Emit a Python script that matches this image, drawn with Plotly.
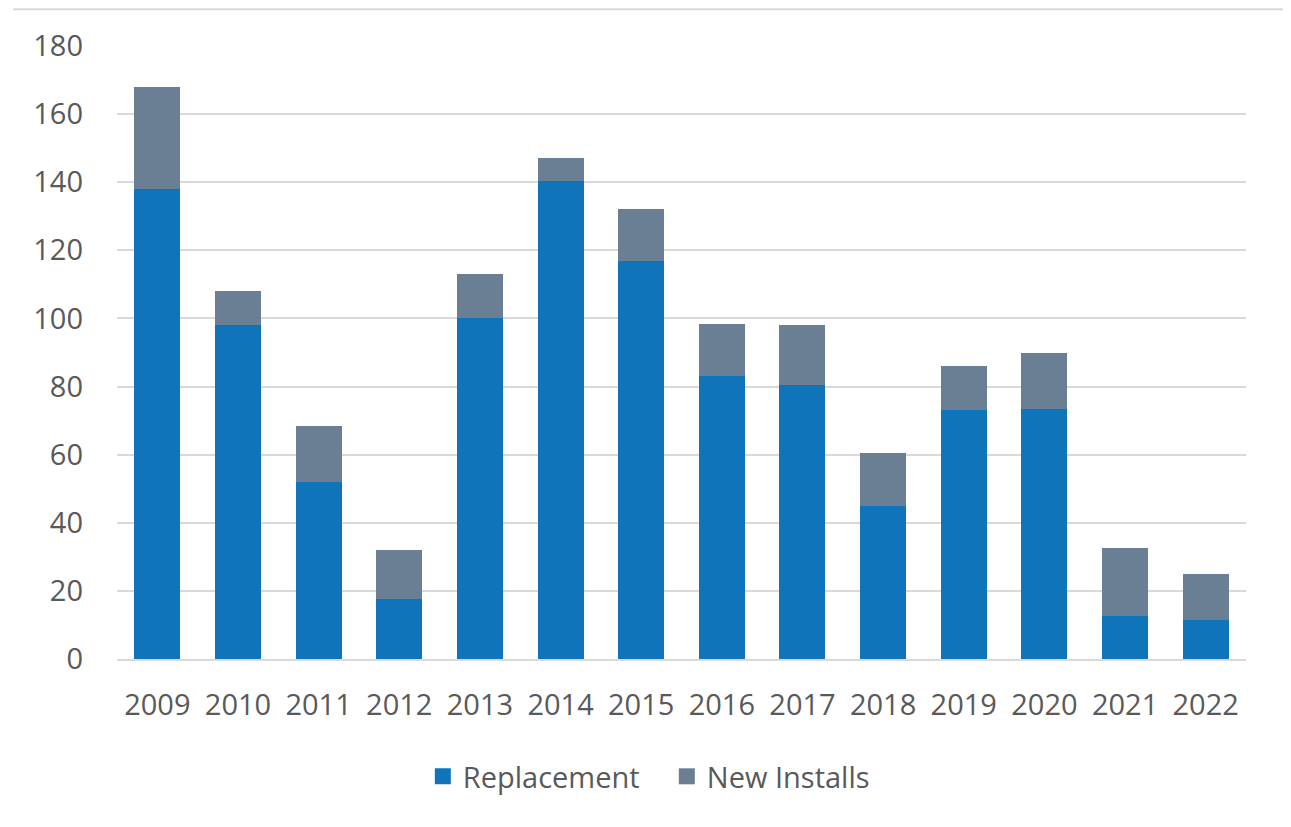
import plotly.graph_objects as go

years = ["2009", "2010", "2011", "2012", "2013", "2014", "2015",
         "2016", "2017", "2018", "2019", "2020", "2021", "2022"]
replacement = [138, 98, 52, 17.5, 100, 140.5, 117, 83, 80.5, 45, 73, 73.5, 12.5, 11.5]
totals = [168, 108, 68.5, 32, 113, 147, 132, 98.5, 98, 60.5, 86, 90, 32.5, 25]
new_installs = [t - r for t, r in zip(totals, replacement)]
series_names = ["Replacement", "New Installs"]
series_colors = ["#1074BB", "#6A7F94"]

fig = go.Figure()
for name, vals, col in zip(series_names, [replacement, new_installs], series_colors):
    fig.add_trace(go.Bar(x=years, y=vals, name=name, legendgroup=name, showlegend=False,
                         marker=dict(color=col, line=dict(width=0))))
# legend entries with larger square swatches
for name, col in zip(series_names, series_colors):
    fig.add_trace(go.Scatter(x=[None], y=[None], mode="markers", name=name, legendgroup=name,
                             marker=dict(symbol="square", size=18, color=col)))

font_family = "Open Sans, sans-serif"
fig.update_layout(
    barmode="stack",
    bargap=0.43,
    width=1291, height=827,
    margin=dict(l=109, r=53, t=38, b=176),
    paper_bgcolor="white", plot_bgcolor="white",
    font=dict(family=font_family, size=29, color="#595959"),
    showlegend=True,
    legend=dict(orientation="h", x=0.487, xanchor="center", y=-0.15, yanchor="top",
                font=dict(size=29, color="#595959"), itemwidth=30, traceorder="normal",
                itemsizing="trace", entrywidth=199, entrywidthmode="pixels"),
    xaxis=dict(showgrid=False, showline=True, linecolor="#D9D9D9", linewidth=2,
               ticks="", ticklabelstandoff=19, tickfont=dict(size=29)),
    yaxis=dict(range=[0, 180], dtick=20, showgrid=True, gridcolor="#D9D9D9", gridwidth=2,
               zeroline=False, ticks="", ticklabelstandoff=33, tickfont=dict(size=29)),
)
# outer frame lines (top and right)
fig.add_shape(type="line", xref="paper", yref="paper", x0=-0.092, x1=1.034, y0=1.06, y1=1.06,
              line=dict(color="#D9D9D9", width=2))
fig.add_shape(type="line", xref="paper", yref="paper", x0=1.034, x1=1.034, y0=1.06, y1=-0.274,
              line=dict(color="#E5E5E5", width=2))

fig.write_html("out.html")
